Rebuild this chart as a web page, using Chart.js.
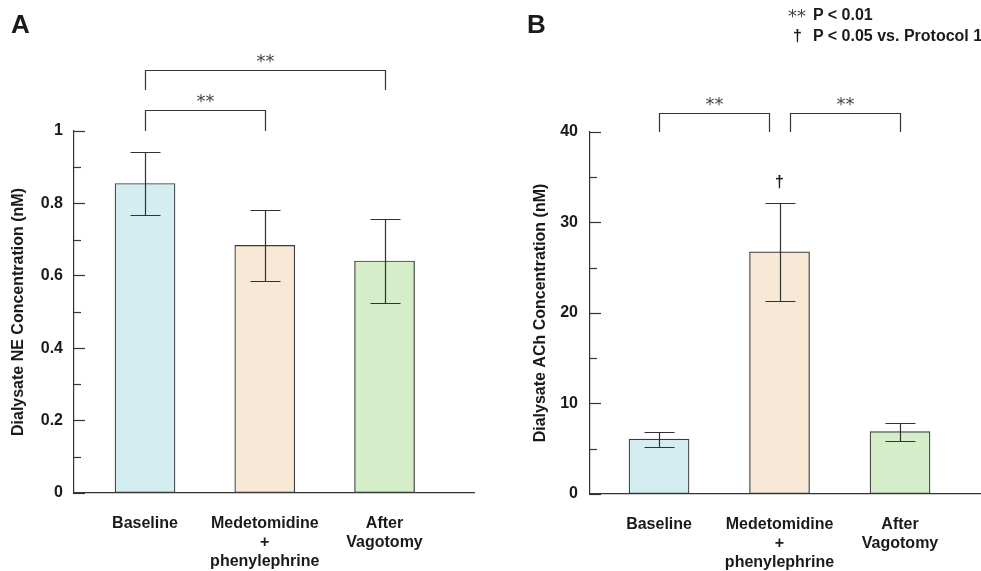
<!DOCTYPE html>
<html><head><meta charset="utf-8">
<script src="https://cdn.jsdelivr.net/npm/chart.js@4.4.0/dist/chart.umd.min.js"></script>
<style>
html,body{margin:0;padding:0;background:#fff;}
body{width:981px;height:571px;position:relative;overflow:hidden;font-family:"Liberation Sans",Arial,Helvetica,sans-serif;color:#1a1a1a;}
.wrap{position:absolute;top:0;height:571px;}
#wa{left:0;width:490px;} #wb{left:490px;width:491px;}
.panel{position:absolute;font-weight:bold;font-size:26px;line-height:26px;}
.leg{position:absolute;font-weight:bold;font-size:16px;line-height:16px;white-space:nowrap;}
.legst{position:absolute;font-family:"DejaVu Sans",sans-serif;font-size:18px;line-height:18px;color:#444;white-space:nowrap;}
</style></head><body>
<div class="wrap" id="wa"><canvas id="ca" width="490" height="571"></canvas></div>
<div class="wrap" id="wb"><canvas id="cb" width="491" height="571"></canvas></div>
<div class="panel" style="left:11px;top:11px">A</div>
<div class="panel" style="left:527px;top:11px">B</div>
<div class="legst" style="left:788px;top:7px">**</div>
<div class="leg" style="left:813px;top:7px">P &lt; 0.01</div>
<div class="leg" style="left:793px;top:28px">†</div>
<div class="leg" style="left:813px;top:28px">P &lt; 0.05 vs. Protocol 1</div>
<script>
// ---- data ----
const categories = [['Baseline'], ['Medetomidine', '+', 'phenylephrine'], ['After', 'Vagotomy']];
const positions = [1, 2, 3];
const neMean = [0.855, 0.684, 0.641];
const neSem = [0.088, 0.097, 0.116];
const achMean = [6.06, 26.75, 6.9];
const achSem = [0.82, 5.4, 1.0];
const neTicks = [0, 0.2, 0.4, 0.6, 0.8, 1];
const achTicks = [0, 10, 20, 30, 40];
const barColors = ['#d3edf1', '#f8e8d6', '#d6edc9'];
const neBrackets = [
  {from: 1, to: 2, y: 1.057, leg: 1.0, label: '**'},
  {from: 1, to: 3, y: 1.168, leg: 1.112, label: '**'}
];
const achBrackets = [
  {from: 1, to: 1.915, y: 42.1, leg: 40.0, label: '**'},
  {from: 2.085, to: 3, y: 42.1, leg: 40.0, label: '**'}
];
const achMarks = [{x: 2, y: 34.5, label: '†'}];

const FAM = '"Liberation Sans", Arial, Helvetica, sans-serif';
const INK = '#1a1a1a';
const LINE = '#333';

function annotPlugin(mean, sem, brackets, marks) {
  return {
    id: 'annot',
    afterDraw(chart) {
      const {ctx, scales: {x, y}} = chart;
      ctx.save();
      ctx.strokeStyle = LINE;
      ctx.lineWidth = 1.2;
      // minor ticks (between labelled ticks)
      const tk = y.ticks;
      for (let i = 0; i < tk.length - 1; i++) {
        const v = (tk[i].value + tk[i + 1].value) / 2;
        const py = Math.round(y.getPixelForValue(v)) + 0.5;
        ctx.beginPath(); ctx.moveTo(x.left, py); ctx.lineTo(x.left + 7, py); ctx.stroke();
      }
      // error bars
      mean.forEach((m, i) => {
        const px = Math.round(x.getPixelForValue(positions[i])) + 0.5;
        const t = Math.round(y.getPixelForValue(m + sem[i])) + 0.5;
        const b = Math.round(y.getPixelForValue(m - sem[i])) + 0.5;
        ctx.beginPath();
        ctx.moveTo(px, t); ctx.lineTo(px, b);
        ctx.moveTo(px - 15, t); ctx.lineTo(px + 15, t);
        ctx.moveTo(px - 15, b); ctx.lineTo(px + 15, b);
        ctx.stroke();
      });
      // brackets
      ctx.fillStyle = '#444';
      ctx.textAlign = 'center';
      ctx.textBaseline = 'alphabetic';
      brackets.forEach(br => {
        const x1 = Math.round(x.getPixelForValue(br.from)) + 0.5;
        const x2 = Math.round(x.getPixelForValue(br.to)) + 0.5;
        const py = Math.round(y.getPixelForValue(br.y)) + 0.5;
        const pl = Math.round(y.getPixelForValue(br.leg));
        ctx.beginPath();
        ctx.moveTo(x1, pl); ctx.lineTo(x1, py); ctx.lineTo(x2, py); ctx.lineTo(x2, pl);
        ctx.stroke();
        ctx.font = '18px "DejaVu Sans", sans-serif';
        ctx.fillText(br.label, (x1 + x2) / 2, py - 13 + 9.5);
      });
      // marks
      ctx.fillStyle = INK;
      ctx.font = 'bold 16px ' + FAM;
      marks.forEach(mk => {
        ctx.fillText(mk.label, x.getPixelForValue(mk.x), y.getPixelForValue(mk.y) + 5);
      });
      ctx.restore();
    }
  };
}

function makeChart(id, opts) {
  const font = {family: FAM, size: 16, weight: 'bold'};
  return new Chart(document.getElementById(id), {
    type: 'bar',
    data: {
      datasets: [{
        data: positions.map((p, i) => ({x: p, y: opts.mean[i]})),
        backgroundColor: barColors,
        borderColor: '#3a3a3a',
        borderWidth: 1.2,
        borderSkipped: false,
        barThickness: 60
      }]
    },
    options: {
      responsive: false,
      animation: false,
      devicePixelRatio: 1,
      layout: {padding: {top: opts.top, right: opts.right, left: 0, bottom: 0}},
      plugins: {legend: {display: false}, tooltip: {enabled: false}},
      scales: {
        x: {
          type: 'linear', min: opts.xmin, max: opts.xmax, offset: false, bounds: 'ticks',
          afterBuildTicks: s => { s.ticks = positions.map(v => ({value: v})); },
          ticks: {
            callback: v => categories[positions.indexOf(v)],
            font: font, color: INK, padding: 21, maxRotation: 0, autoSkip: false
          },
          grid: {drawOnChartArea: false, drawTicks: false, offset: false},
          border: {color: LINE, width: 1.2},
          afterFit: s => { s.height = opts.xh; }
        },
        y: {
          min: 0, max: opts.ymax,
          afterBuildTicks: s => { s.ticks = opts.ticks.map(v => ({value: v})); },
          ticks: {callback: v => String(v), font: font, color: INK, padding: opts.tpad},
          grid: {drawOnChartArea: false, tickLength: -11, tickColor: LINE, tickWidth: 1.2},
          border: {color: LINE, width: 1.2},
          title: {display: true, text: opts.title, font: font, color: INK, padding: {top: opts.titlePad, bottom: 0}},
          afterFit: s => { s.width = opts.yw; }
        }
      }
    },
    plugins: [annotPlugin(opts.mean, opts.sem, opts.brackets, opts.marks)]
  });
}

makeChart('ca', {
  mean: neMean, sem: neSem, brackets: neBrackets, marks: [],
  ticks: neTicks, ymax: 1, title: 'Dialysate NE Concentration (nM)',
  top: 131, right: 16, xmin: 0.407, xmax: 3.747, xh: 78, yw: 74, tpad: 22, titlePad: 9
});
makeChart('cb', {
  mean: achMean, sem: achSem, brackets: achBrackets, marks: achMarks,
  ticks: achTicks, ymax: 40, title: 'Dialysate ACh Concentration (nM)',
  top: 132, right: 0, xmin: 0.427, xmax: 3.672, xh: 77, yw: 100, tpad: 23, titlePad: 41
});
</script>
</body></html>
